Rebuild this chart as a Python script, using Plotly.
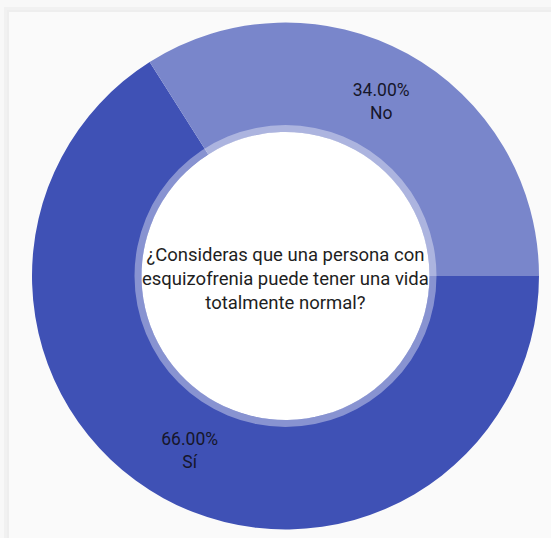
import plotly.graph_objects as go

# Survey answers and their shares
labels = ["Sí", "No"]
values = [66, 34]
colors = ["#3f51b5", "#7986cb"]
question = "¿Consideras que una persona con<br>esquizofrenia puede tener una vida<br>totalmente normal?"

W, H = 551, 538
cx, cy = 285.5, 276.0      # donut centre in px
r_out, r_ring, r_in = 253.5, 151.0, 144.0


def dom(r):
    return dict(x=[(cx - r) / W, (cx + r) / W], y=[1 - (cy + r) / H, 1 - (cy - r) / H])


fig = go.Figure()

fig.add_trace(go.Pie(
    labels=labels,
    values=values,
    marker=dict(colors=colors, line=dict(width=0)),
    hole=r_in / r_out,
    sort=False,
    direction="clockwise",
    rotation=90,
    domain=dom(r_out),
    textposition="inside",
    insidetextorientation="horizontal",
    texttemplate="%{percent:.2%}<br>%{label}",
    textfont=dict(family="Roboto", size=17.5, color="#16162a"),
    showlegend=False,
))

# translucent ring around the centre hole
fig.add_trace(go.Pie(
    labels=["ring"],
    values=[1],
    marker=dict(colors=["rgba(255,255,255,0.38)"], line=dict(width=0)),
    hole=r_in / r_ring,
    sort=False,
    domain=dom(r_ring),
    textinfo="none",
    hoverinfo="skip",
    showlegend=False,
))

shapes = [
    # card shadow and card
    dict(type="rect", xref="paper", yref="paper", x0=4 / W, x1=1.0, y0=0, y1=1 - 7 / H,
         fillcolor="#f1f1f1", line=dict(width=0), layer="below"),
    dict(type="rect", xref="paper", yref="paper", x0=7 / W, x1=1.0, y0=0, y1=1 - 10 / H,
         fillcolor="#eeeeee", line=dict(width=0), layer="below"),
    dict(type="rect", xref="paper", yref="paper", x0=9 / W, x1=1.0, y0=0, y1=1 - 12 / H,
         fillcolor="#fafafa", line=dict(width=0), layer="below"),
    # white centre
    dict(type="circle", xref="paper", yref="paper",
         x0=(cx - r_in) / W, x1=(cx + r_in) / W,
         y0=1 - (cy + r_in) / H, y1=1 - (cy - r_in) / H,
         fillcolor="#ffffff", line=dict(width=0), layer="below"),
]

fig.update_layout(
    width=W, height=H,
    margin=dict(l=0, r=0, t=0, b=0),
    paper_bgcolor="#f8f8f8",
    plot_bgcolor="#f8f8f8",
    shapes=shapes,
    annotations=[dict(
        text=question, x=cx / W, y=1 - 279 / H, xref="paper", yref="paper",
        showarrow=False, align="center",
        font=dict(family="Roboto", size=18.5, color="#1e1e1e"),
    )],
)

fig.write_html("out.html")
